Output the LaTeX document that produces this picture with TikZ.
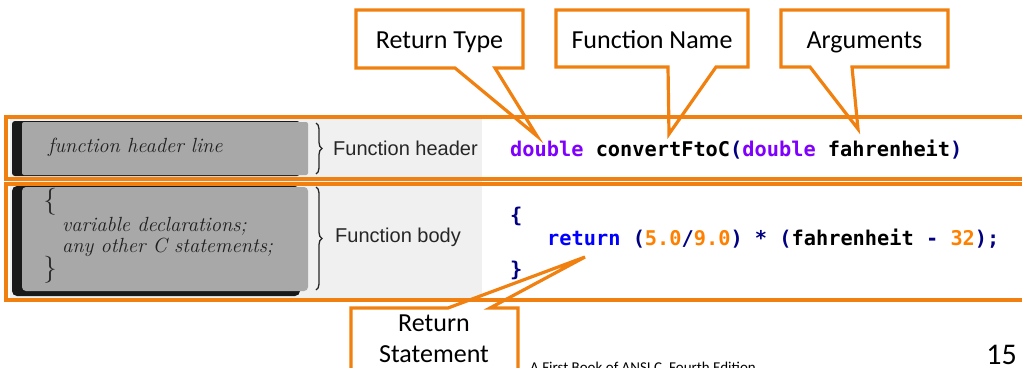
\documentclass[tikz,border=0pt]{standalone}
\usepackage{fontspec}
\usetikzlibrary{decorations.pathreplacing}
\newfontfamily\calibrifont{Carlito}
\newfontfamily\arialfont{Liberation Sans}
\newfontfamily\codefont{DejaVu Sans Mono}
\definecolor{corange}{RGB}{240,128,16}
\definecolor{cpurple}{RGB}{128,0,255}
\definecolor{cnavy}{RGB}{0,0,128}
\definecolor{cblue}{RGB}{0,0,255}
\definecolor{cnum}{RGB}{255,128,0}
\definecolor{cpanel}{RGB}{240,240,240}
\definecolor{cbox}{RGB}{168,168,168}
\begin{document}
\begin{tikzpicture}[x=1pt,y=-1pt,
  calltext/.style={font=\calibrifont\fontsize{26}{31}\selectfont, inner sep=0pt, anchor=base},
  callshape/.style={draw=corange, line width=3.2pt, line join=miter},
  frame/.style={draw=corange, line width=4pt},
  codetext/.style={font=\codefont\bfseries\fontsize{20.3}{24}\selectfont, inner sep=0pt, anchor=base west},
  booktext/.style={font=\itshape\fontsize{20.5}{24}\selectfont, text=black!88, inner sep=0pt, anchor=base west},
  labeltext/.style={font=\arialfont\fontsize{20}{24}\selectfont, text=black!85, inner sep=0pt, anchor=base west},
  bracestyle/.style={decorate, decoration={brace, amplitude=6pt}, line width=1.3pt, draw=black!85},
  darkbox/.style={fill=cbox},
  shadow/.style={fill=black!90}
]
\useasboundingbox (0,0) rectangle (1022,367);
\clip (0,0) rectangle (1022,367);

% scanned figure background
\fill[cpanel] (10,119) rectangle (482,298);
% header box
\fill[shadow, rounded corners=3pt] (12,121) rectangle (300,176);
\fill[darkbox, rounded corners=2pt] (22,122) rectangle (308,175);
% body box
\fill[shadow, rounded corners=5pt] (12,186) rectangle (300,296);
\fill[darkbox, rounded corners=4pt] (22,187) rectangle (308,291);

\node[booktext] (fhl) at (48,152) {function header line};
\node[font=\fontsize{27}{27}\selectfont, text=black!85, inner sep=0pt] (lbr) at (50,202) {\{};
\node[booktext] (vd) at (62,231) {variable declarations;};
\node[booktext] (aoc) at (62,252) {any other C statements;};
\node[font=\fontsize{27}{27}\selectfont, text=black!85, inner sep=0pt] (rbr) at (50,270) {\}};

\draw[bracestyle] (316,123) -- (316,174);
\draw[bracestyle] (316,187) -- (316,290);
\node[labeltext] (fh) at (333,155) {Function header};
\node[labeltext] (fb) at (335,242) {Function body};

% code
\node[codetext] (c1) at (510,156) {\textcolor{cpurple}{double} convertFtoC\textcolor{cnavy}{(}\textcolor{cpurple}{double} fahrenheit\textcolor{cnavy}{)}};
\node[codetext, text=cnavy] (c2) at (510,222) {\{};
\node[codetext] (c3) at (547,245) {\textcolor{cblue}{return} \textcolor{cnavy}{(}\textcolor{cnum}{5.0}\textcolor{cnavy}{/}\textcolor{cnum}{9.0}\textcolor{cnavy}{)} \textcolor{cnavy}{*} \textcolor{cnavy}{(}fahrenheit \textcolor{cnavy}{-} \textcolor{cnum}{32}\textcolor{cnavy}{);}};
\node[codetext, text=cnavy] (c4) at (510,276) {\}};

% orange frames
\draw[frame] (6,117) rectangle (1040,179);
\draw[frame] (6,184) rectangle (1040,300);

% callouts
\coordinate (tipRT) at (537,136);
\coordinate (tipFN) at (669,134);
\coordinate (tipAR) at (858,129);
\coordinate (tipRS) at (585,257);
\draw[callshape] (356,10) -- (523,10) -- (523,68) -- (495,68) -- (tipRT) -- (455,68) -- (356,68) -- cycle;
\draw[callshape] (556,10) -- (748,10) -- (748,67) -- (716,67) -- (tipFN) -- (668,67) -- (556,67) -- cycle;
\draw[callshape] (781,10) -- (948,10) -- (948,67) -- (852,67) -- (tipAR) -- (810,67) -- (781,67) -- cycle;
\draw[callshape] (351,380) -- (351,308) -- (448,308) -- (tipRS) -- (490,308) -- (518,308) -- (518,380) -- cycle;

\node[calltext] (rt) at (439.5,48) {Return Type};
\node[calltext] (fn) at (652,48) {Function Name};
\node[calltext] (ar) at (864.5,48) {Arguments};
\node[calltext] (rs1) at (434,331) {Return};
\node[calltext] (rs2) at (434,362) {Statement};

% footer
\node[font=\calibrifont\fontsize{15}{18}\selectfont, inner sep=0pt, anchor=base west] (foot) at (530,372) {A First Book of ANSI C, Fourth Edition};
\node[font=\calibrifont\fontsize{30}{36}\selectfont, inner sep=0pt, anchor=base east] (pg) at (1017,364) {15};
\end{tikzpicture}
\end{document}
